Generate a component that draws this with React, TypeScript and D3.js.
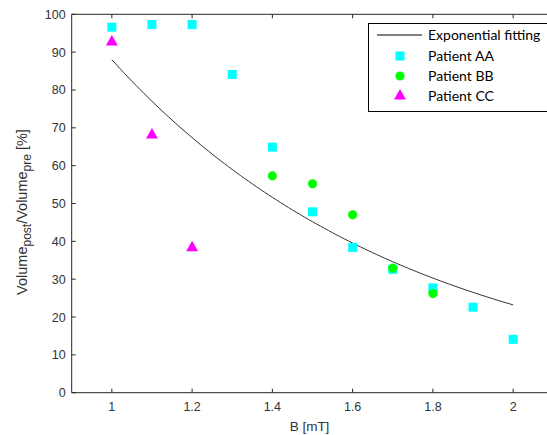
import React from 'react';
import * as d3 from 'd3';

const xTicks = [1, 1.2, 1.4, 1.6, 1.8, 2];
const yTicks = [0, 10, 20, 30, 40, 50, 60, 70, 80, 90, 100];

const aaB = [1.0, 1.1, 1.2, 1.3, 1.4, 1.5, 1.6, 1.7, 1.8, 1.9, 2.0];
const aaV = [96.6, 97.3, 97.3, 84.1, 64.9, 47.8, 38.4, 32.6, 27.7, 22.6, 14.1];
const bbB = [1.4, 1.5, 1.6, 1.7, 1.8];
const bbV = [57.3, 55.2, 47.0, 32.9, 26.2];
const ccB = [1.0, 1.1, 1.2];
const ccV = [92.7, 68.1, 38.3];

// exponential fit parameters: V = fitA * exp(-fitK * (B - 1))
const fitA = 88.0;
const fitK = 1.333;
const fitRange = [1, 2];

const legendLabels = ['Exponential fitting', 'Patient AA', 'Patient BB', 'Patient CC'];
const colors = { AA: '#00FFFF', BB: '#00FF00', CC: '#FF00FF' };

export default function App() {
  const W = 547, H = 435;
  const x = d3.scaleLinear().domain([0.9, 2.1]).range([71.7, 553.3]);
  const y = d3.scaleLinear().domain([0, 100]).range([392.7, 14.3]);
  const axisColor = '#262626';
  const tickFont = "'Liberation Sans', Arial, sans-serif";

  const fitPts = d3.range(fitRange[0], fitRange[1] + 1e-9, 0.01).map((b) => [b, fitA * Math.exp(-fitK * (b - 1))] as [number, number]);
  const line = d3.line<[number, number]>().x((d) => x(d[0])).y((d) => y(d[1]));

  const sq = d3.symbol().type(d3.symbolSquare).size(81)()!;
  const circ = d3.symbol().type(d3.symbolCircle).size(66)()!;
  const tri = d3.symbol().type(d3.symbolTriangle).size(62)()!;

  const x0 = x(0.9), x1 = x(2.1), y0 = y(0), y1 = y(100);

  const lx = 368.5, ly = 23.5;
  const rowY = [35, 56, 76, 96];

  return (
    <svg width={W} height={H} style={{ position: 'absolute', left: 0, top: 0, background: '#fff' }}>
      <rect x={0} y={0} width={W} height={H} fill="#fff" />
      {/* axes box */}
      <line x1={x0} x2={x1} y1={y0} y2={y0} stroke={axisColor} strokeWidth={1} />
      <line x1={x0} x2={x1} y1={y1} y2={y1} stroke={axisColor} strokeWidth={1} />
      <line x1={x0} x2={x0} y1={y0} y2={y1} stroke={axisColor} strokeWidth={1} />
      <line x1={x1} x2={x1} y1={y0} y2={y1} stroke={axisColor} strokeWidth={1} />
      {xTicks.map((t) => (
        <g key={'xt' + t}>
          <line x1={x(t)} x2={x(t)} y1={y0} y2={y0 - 4} stroke={axisColor} />
          <line x1={x(t)} x2={x(t)} y1={y1} y2={y1 + 4} stroke={axisColor} />
          <text x={x(t)} y={y0 + 18} textAnchor="middle" fontFamily={tickFont} fontSize={12.5} fill="#333">
            {String(t)}
          </text>
        </g>
      ))}
      {yTicks.map((t) => (
        <g key={'yt' + t}>
          <line x1={x0} x2={x0 + 4} y1={y(t)} y2={y(t)} stroke={axisColor} />
          <text x={x0 - 6} y={y(t) + 4.5} textAnchor="end" fontFamily={tickFont} fontSize={12.5} fill="#333">
            {String(t)}
          </text>
        </g>
      ))}
      <text x={(x0 + x1) / 2 - 3} y={431} textAnchor="middle" fontFamily={tickFont} fontSize={13.5} fill="#333">
        B [mT]
      </text>
      <text
        transform={`translate(27, ${212}) rotate(-90)`}
        textAnchor="middle"
        fontFamily={tickFont}
        fontSize={14.5}
        fill="#333"
      >
        Volume
        <tspan fontSize={12} dy={4}>post</tspan>
        <tspan dy={-4}>/Volume</tspan>
        <tspan fontSize={12} dy={4}>pre</tspan>
        <tspan dy={-4}> [%]</tspan>
      </text>

      {/* fit */}
      <path d={line(fitPts)!} fill="none" stroke="#333" strokeWidth={1} />

      {aaB.map((b, i) => (
        <path key={'aa' + i} d={sq} transform={`translate(${x(b)},${y(aaV[i])})`} fill={colors.AA} />
      ))}
      {bbB.map((b, i) => (
        <path key={'bb' + i} d={circ} transform={`translate(${x(b)},${y(bbV[i])})`} fill={colors.BB} />
      ))}
      {ccB.map((b, i) => (
        <path key={'cc' + i} d={tri} transform={`translate(${x(b)},${y(ccV[i])})`} fill={colors.CC} />
      ))}

      {/* legend */}
      <rect x={lx} y={ly} width={200} height={88} fill="#fff" stroke="#000" strokeWidth={1} />
      <line x1={377} x2={422} y1={rowY[0]} y2={rowY[0]} stroke="#000" strokeWidth={1} />
      <path d={sq} transform={`translate(400,${rowY[1]})`} fill={colors.AA} />
      <path d={circ} transform={`translate(400,${rowY[2]})`} fill={colors.BB} />
      <path d={tri} transform={`translate(400,${rowY[3]})`} fill={colors.CC} />
      {legendLabels.map((l, i) => (
        <text key={l} x={428} y={rowY[i] + 5} fontFamily="Lato, 'Open Sans', sans-serif" fontSize={14} fill="#000">
          {l}
        </text>
      ))}
    </svg>
  );
}
